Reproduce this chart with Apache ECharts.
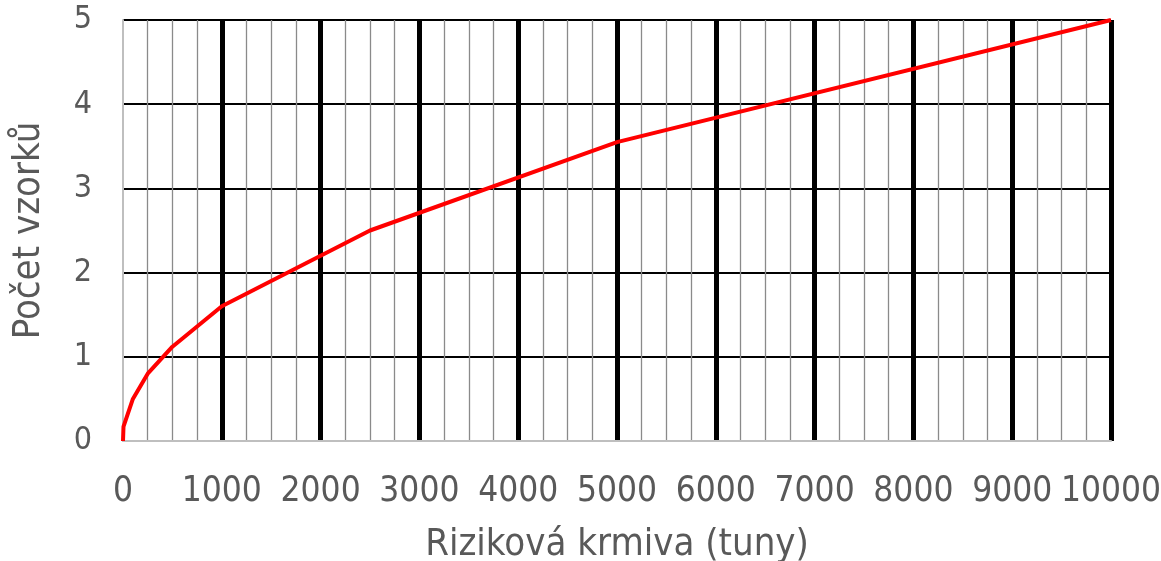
<!DOCTYPE html>
<html>
<head>
<meta charset="utf-8">
<script src="https://cdn.jsdelivr.net/npm/echarts@6/dist/echarts.min.js"></script>
<style>
html,body{margin:0;padding:0;background:#fff;}
#chart{width:1161px;height:561px;}
</style>
</head>
<body>
<div id="chart"></div>
<script>
// Data
const xValues = [0, 5, 100, 250, 500, 1000, 2500, 5000, 10000];   // Riziková krmiva (tuny)
const yValues = [0, 0.17, 0.5, 0.8, 1.12, 1.6, 2.5, 3.55, 5];     // Počet vzorků
const xTitle = 'Riziková krmiva (tuny)';
const yTitle = 'Počet vzorků';

const font = '"Liberation Sans Narrow", "DejaVu Sans Condensed", "Open Sans", sans-serif';
const txt = '#595959';

const chart = echarts.init(document.getElementById('chart'));
chart.setOption({
  backgroundColor: '#ffffff',
  animation: false,
  grid: { left: 123, right: 50, top: 20, bottom: 120, containLabel: false, outerBoundsMode: 'none' },
  xAxis: {
    type: 'value', min: 0, max: 10000, interval: 1000,
    name: xTitle, nameLocation: 'middle', nameGap: 85,
    nameTextStyle: { fontFamily: font, fontSize: 38, color: txt },
    axisLine: { show: true, lineStyle: { color: '#bfbfbf', width: 2 } },
    axisTick: { show: false },
    axisLabel: {
      fontFamily: font, fontSize: 35, color: txt, margin: 33,
      hideOverlap: false, showMinLabel: true, showMaxLabel: true,
      formatter: v => String(v)
    },
    splitLine: { show: true, showMinLine: false, lineStyle: { color: '#000', width: 5 } },
    minorTick: { show: false, splitNumber: 4 },
    minorSplitLine: { show: true, lineStyle: { color: '#8a8a8a', width: 1.3 } }
  },
  yAxis: {
    type: 'value', min: 0, max: 5, interval: 1,
    name: yTitle, nameLocation: 'middle', nameGap: 75,
    nameTextStyle: { fontFamily: font, fontSize: 38, color: txt },
    axisLine: { show: true, lineStyle: { color: '#bfbfbf', width: 2 } },
    axisTick: { show: false },
    axisLabel: { fontFamily: font, fontSize: 32, color: txt, margin: 31 },
    splitLine: { show: true, showMinLine: false, lineStyle: { color: '#000', width: 2 } }
  },
  series: [{
    type: 'line',
    data: xValues.map((x, i) => [x, yValues[i]]),
    showSymbol: false,
    symbol: 'none',
    lineStyle: { color: '#ff0000', width: 4 },
    z: 10
  }]
});
</script>
</body>
</html>
